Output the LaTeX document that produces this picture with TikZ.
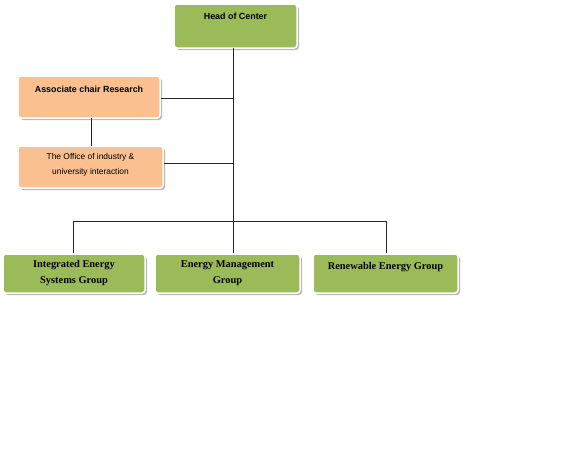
\documentclass[tikz,border=0pt]{standalone}
\usepackage{fontspec}
\setmainfont{Liberation Serif}
\setsansfont{Liberation Sans}
\usetikzlibrary{shadows}
\definecolor{boxgreen}{HTML}{9BBB59}
\definecolor{boxorange}{HTML}{FAC090}
\tikzset{
  orgbox/.style={rectangle, rounded corners=3pt, draw=white, line width=1.5pt,
    drop shadow={shadow xshift=2pt, shadow yshift=-2pt, fill=black!30, opacity=0.9},
    inner sep=0pt, align=center},
  greenbox/.style={orgbox, fill=boxgreen},
  orangebox/.style={orgbox, fill=boxorange},
  conn/.style={draw=black!85, line width=0.5pt},
  toptext/.style={font=\sffamily\bfseries\fontsize{8.9}{10}\selectfont},
  officetext/.style={font=\sffamily\fontsize{8.4}{15}\selectfont, align=center},
  grouptext/.style={font=\rmfamily\bfseries\fontsize{10.4}{16}\selectfont, align=center}
}
\begin{document}
\begin{tikzpicture}[x=1pt,y=-1pt]
\useasboundingbox (0,0) rectangle (563,450);
% boxes
\node[greenbox, minimum width=123pt, minimum height=44pt] (head) at (235.5,26) {};
\node[orangebox, minimum width=142pt, minimum height=42pt] (assoc) at (89,97) {};
\node[orangebox, minimum width=145pt, minimum height=42pt] (office) at (90.5,167) {};
\node[greenbox, minimum width=142pt, minimum height=39pt] (g1) at (74,273.5) {};
\node[greenbox, minimum width=145pt, minimum height=39pt] (g2) at (227.5,273.5) {};
\node[greenbox, minimum width=145pt, minimum height=39pt] (g3) at (385.5,273.5) {};
% texts
\node[toptext] (headt) at (235.5,16) {Head of Center};
\node[toptext] (assoct) at (89,89) {Associate chair Research};
\node[officetext] (officet) at (90.5,164.5) {The Office of industry \&\\university interaction};
\node[grouptext] (g1t) at (74,273) {Integrated Energy\\Systems Group};
\node[grouptext] (g2t) at (227.5,273) {Energy Management\\Group};
\node[grouptext] (g3t) at (385.5,267) {Renewable Energy Group};
% connectors
\coordinate (trunkA) at (233,98);
\coordinate (trunkB) at (233,163);
\coordinate (busL) at (73,221);
\coordinate (busM) at (233,221);
\coordinate (busR) at (386,221);
\draw[conn] (233,48) -- (233,253);
\draw[conn] (assoc.east |- trunkA) -- (trunkA);
\draw[conn] (office.east |- trunkB) -- (trunkB);
\draw[conn] (91,118) -- (91,146);
\draw[conn] (busL) -- (busR);
\draw[conn] (busL) -- (busL |- g1.north);
\draw[conn] (busR) -- (busR |- g3.north);
\end{tikzpicture}
\end{document}
